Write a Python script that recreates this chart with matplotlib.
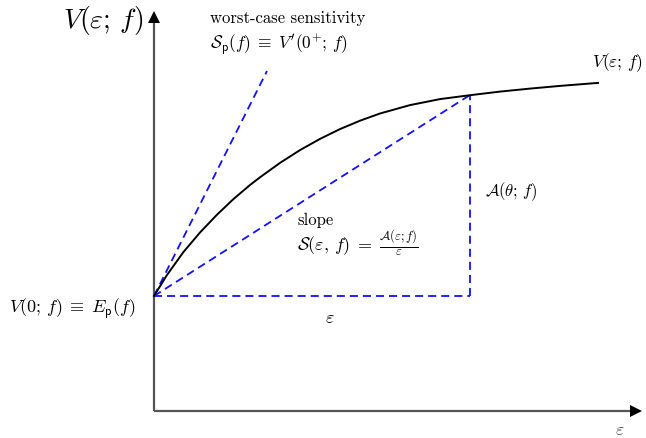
import matplotlib
matplotlib.use("Agg")
from matplotlib import pyplot as plt

plt.rcParams['mathtext.fontset'] = 'cm'
plt.rcParams['lines.scale_dashes'] = False

# value curve V(eps; f) (origin = axes corner)
eps = [0, 12.7, 29.3, 46, 62.7, 79.3, 96, 106, 126, 146, 166, 186, 206,
       226, 256, 286, 316, 346, 376, 406, 444]
V = [115, 135.6, 158.8, 178.5, 196.0, 211.8, 226.0, 233.7, 248.1, 260.9,
     272.1, 281.9, 290.3, 297.5, 305.9, 311.9, 315.8, 319.4, 322.4, 325.1, 328.1]

# construction lines
E_p = 115                 # V(0; f)
worst_end = [113, 340]    # end of tangent at 0+
theta = 316               # chosen eps for chord
V_theta = 316
x_max, y_max = 488, 400

blue = '#1010ff'
dash = (0, (5.8, 3.6))

fig = plt.figure(figsize=(6.46, 4.39), dpi=100)
ax = fig.add_axes([0, 0, 1, 1])
ax.set_xlim(-154, 646 - 154)
ax.set_ylim(412 - 439, 412)
ax.axis('off')

# axes with arrows
ax.plot([0, x_max - 10], [0, 0], color='#555555', lw=1.6, solid_capstyle='butt')
ax.plot([0, 0], [0, y_max - 10], color='#555555', lw=1.6, solid_capstyle='butt')
ax.plot([x_max - 6], [0], marker='>', color='black', ms=9, mew=0)
ax.plot([0], [y_max - 6], marker='^', color='black', ms=9, mew=0)

# dashed helpers
ax.plot([0, worst_end[0]], [E_p, worst_end[1]], color=blue, lw=1.3, linestyle=dash)
ax.plot([0, theta], [E_p, V_theta], color=blue, lw=1.3, linestyle=dash)
ax.plot([theta, theta], [E_p, V_theta], color=blue, lw=1.3, linestyle=dash)
ax.plot([0, theta], [E_p, E_p], color=blue, lw=1.3, linestyle=dash)

# the curve
ax.plot(eps, V, color='black', lw=1.4, solid_joinstyle='round')

# labels
ax.text(-11, 392, r'$V(\varepsilon;\, f)$', fontsize=20, ha='right', va='center')
ax.text(56, 394, 'worst-case sensitivity', family='cmr10', fontsize=12,
        ha='left', va='center')
ax.text(56, 367, r'$\mathcal{S}_\mathsf{p}(f) \;\equiv\; V^{\prime}(0^{+};\, f)$',
        fontsize=12.5, ha='left', va='center')
ax.text(438, 349, r'$V(\varepsilon;\, f)$', fontsize=12.5, ha='left', va='center')
ax.text(331, 220, r'$\mathcal{A}(\theta;\, f)$', fontsize=12, ha='left', va='center')
ax.text(143, 192, 'slope', family='cmr10', fontsize=12, ha='left', va='center')
ax.text(143, 169,
        r'$\mathcal{S}(\varepsilon,\, f) \;=\; \frac{\mathcal{A}(\varepsilon;f)}{\varepsilon}$',
        fontsize=13, ha='left', va='center')
ax.text(176, 94, r'$\varepsilon$', fontsize=13, ha='center', va='center')
ax.text(-19, 103, r'$V(0;\, f) \;\equiv\; E_\mathsf{p}(f)$', fontsize=13,
        ha='right', va='center')
ax.text(466, -18, r'$\varepsilon$', fontsize=13, ha='center', va='center',
        color='#555555')

fig.savefig('out.png', dpi=100)
